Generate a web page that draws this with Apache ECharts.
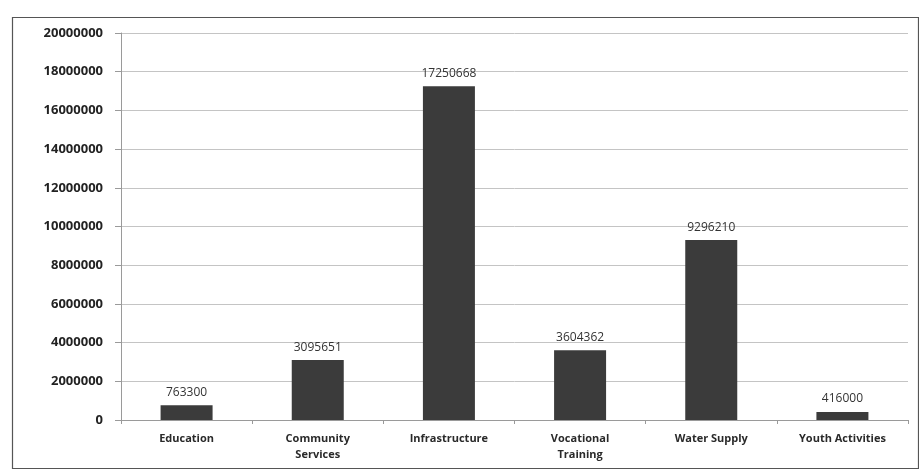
<!DOCTYPE html>
<html>
<head>
<meta charset="utf-8">
<script src="https://cdn.jsdelivr.net/npm/echarts@6/dist/echarts.min.js"></script>
<style>
  html, body { margin: 0; padding: 0; background: #fff; }
  #chart { width: 919px; height: 473px; }
</style>
</head>
<body>
<div id="chart"></div>
<script>
// Funding by programme area
const categories = ['Education', 'Community\nServices', 'Infrastructure', 'Vocational\nTraining', 'Water Supply', 'Youth Activities'];
const amounts = [763300, 3095651, 17250668, 3604362, 9296210, 416000];
const yMin = 0;
const yMax = 20000000;
const yStep = 2000000;

const chart = echarts.init(document.getElementById('chart'), null, { renderer: 'canvas' });

chart.setOption({
  backgroundColor: '#ffffff',
  animation: false,
  graphic: [{
    type: 'rect',
    shape: { x: 12.5, y: 17.5, width: 906, height: 451 },
    style: { fill: 'none', stroke: '#555', lineWidth: 1.2 },
    silent: true
  }],
  grid: { left: 121, right: 11, top: 33, bottom: 53, containLabel: false },
  xAxis: {
    type: 'category',
    data: categories,
    axisLine: { lineStyle: { color: '#9a9a9a', width: 1 } },
    axisTick: { show: true, length: 4, lineStyle: { color: '#9a9a9a' } },
    axisLabel: {
      color: '#2a2a2a', fontSize: 11, fontWeight: 'bold', fontFamily: 'Open Sans',
      margin: 11, lineHeight: 16, interval: 0
    }
  },
  yAxis: {
    type: 'value',
    min: yMin, max: yMax, interval: yStep,
    axisLine: { show: true, lineStyle: { color: '#9a9a9a', width: 1 } },
    axisTick: { show: true, length: 6, lineStyle: { color: '#9a9a9a' } },
    splitLine: { lineStyle: { color: '#c4c4c4', width: 1 } },
    axisLabel: {
      color: '#222', fontSize: 13, fontWeight: 'bold', fontFamily: 'Open Sans', margin: 18,
      formatter: function (v) { return String(v); }
    }
  },
  series: [{
    type: 'bar',
    data: amounts,
    barWidth: 52,
    itemStyle: { color: '#3b3b3b' },
    label: {
      show: true, position: 'top', distance: 7,
      color: '#333', fontSize: 12, fontFamily: 'Open Sans'
    }
  }]
});
</script>
</body>
</html>
